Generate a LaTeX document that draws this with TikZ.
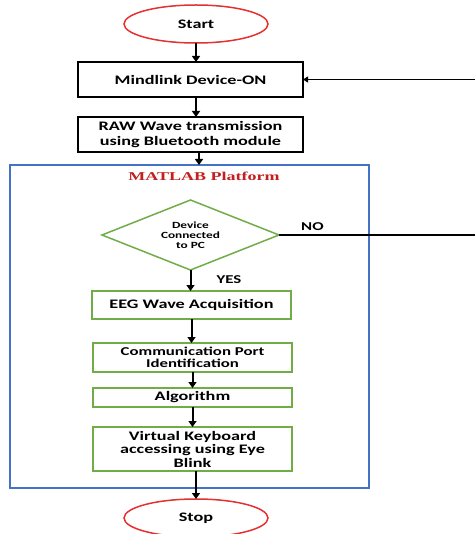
\documentclass[tikz,border=0pt]{standalone}
\usepackage{fontspec}
\setmainfont{Carlito}[FakeStretch=1.4]
\newfontfamily\titlefont{Liberation Serif}[FakeStretch=1.5]
\usepackage{tikz}
\usetikzlibrary{positioning,shapes.geometric,arrows.meta}

\definecolor{termred}{RGB}{228,48,48}
\definecolor{procgreen}{RGB}{112,173,71}
\definecolor{platblue}{RGB}{68,114,196}
\definecolor{titlered}{RGB}{196,30,30}

\tikzset{
  term/.style={ellipse, draw=termred, line width=1.5pt, minimum width=144pt, minimum height=38pt, inner sep=0pt, outer sep=0pt, font=\fontsize{13}{15}\selectfont\bfseries},
  io/.style={rectangle, draw=black, line width=1.8pt, minimum width=225pt, minimum height=35pt, inner sep=0pt, outer sep=0pt, align=center, font=\fontsize{13}{14.5}\selectfont\bfseries},
  proc/.style={rectangle, draw=procgreen, line width=1.7pt, minimum width=199pt, inner sep=0pt, outer sep=0pt, align=center, font=\fontsize{13}{13.5}\selectfont\bfseries},
  cond/.style={diamond, aspect=2.5, draw=procgreen, line width=1.5pt, minimum width=177pt, minimum height=70pt, inner sep=0pt, outer sep=0pt, align=center, font=\fontsize{9.5}{10}\selectfont\bfseries},
  plat/.style={rectangle, draw=platblue, line width=1.8pt, minimum width=359pt, minimum height=323pt, inner sep=0pt, outer sep=0pt},
  lbl/.style={inner sep=0pt, font=\fontsize{12}{12}\selectfont\bfseries},
  arr/.style={line width=2pt, -{Triangle[length=6pt,width=8pt]}},
  back/.style={line width=1.1pt, -{Triangle[length=5pt,width=6pt]}}
}

\begin{document}
\begin{tikzpicture}[x=1pt,y=1pt]

  \useasboundingbox (0,0) rectangle (474,-534);

  % Start and input
  \node[term] at (196,-24) (start) {Start}; %
  \node[io, below=19pt of start, xshift=-5.5pt] (mind) {Mindlink Device-ON}; %
  \node[io, below=20pt of mind] (raw) {RAW Wave transmission\\using Bluetooth module}; %

  % MATLAB block
  \node[plat, below=13pt of raw, xshift=-1pt] (platform) {}; %
  \node[inner sep=0pt, below=7pt of platform.north, xshift=14.5pt, text=titlered, font=\fontsize{12}{12}\selectfont\titlefont\bfseries] (ttl) {MATLAB Platform}; %
  \node[cond, below=35pt of platform.north, xshift=1pt] (dec) {Device\\Connected\\to PC}; %
  \node[proc, minimum height=28pt, below=21pt of dec, xshift=1pt] (eeg) {EEG Wave Acquisition}; %
  \node[proc, minimum height=29pt, below=24pt of eeg, xshift=1pt, font=\fontsize{12}{12}\selectfont\bfseries] (comm) {Communication Port\\Identification}; %
  \node[proc, minimum height=19pt, below=16pt of comm] (alg) {Algorithm}; %
  \node[proc, minimum height=44pt, below=20pt of alg] (virt) {Virtual Keyboard\\accessing using Eye\\Blink}; %

  % Stop
  \node[term, below=28pt of virt, xshift=3.5pt] (stop) {Stop}; %

  % Labels
  \node[lbl, above right=4pt and 22pt of dec.east] (no) {NO}; %
  \node[lbl, below right=5pt and 26pt of dec.south] (yes) {YES}; %

  % Edges
  \draw[arr] (start) -- (start |- mind.north); %
  \draw[arr] (mind.south -| start) -- (start |- raw.north); %
  \draw[arr] ([xshift=3pt]raw.south -| start) -- ([xshift=3pt]start |- platform.north); %
  \draw[arr] (dec) -- (dec |- eeg.north); %
  \draw[arr] (eeg) -- (eeg |- comm.north); %
  \draw[arr] (comm) -- (alg); %
  \draw[arr] (alg) -- (virt); %
  \draw[arr] (virt.south -| stop) -- (stop); %

  % NO loop back
  \coordinate[right=201pt of dec.east] (loop); %
  \draw[back] (dec.east) -- (loop) |- (mind.east); %

\end{tikzpicture}
\end{document}
